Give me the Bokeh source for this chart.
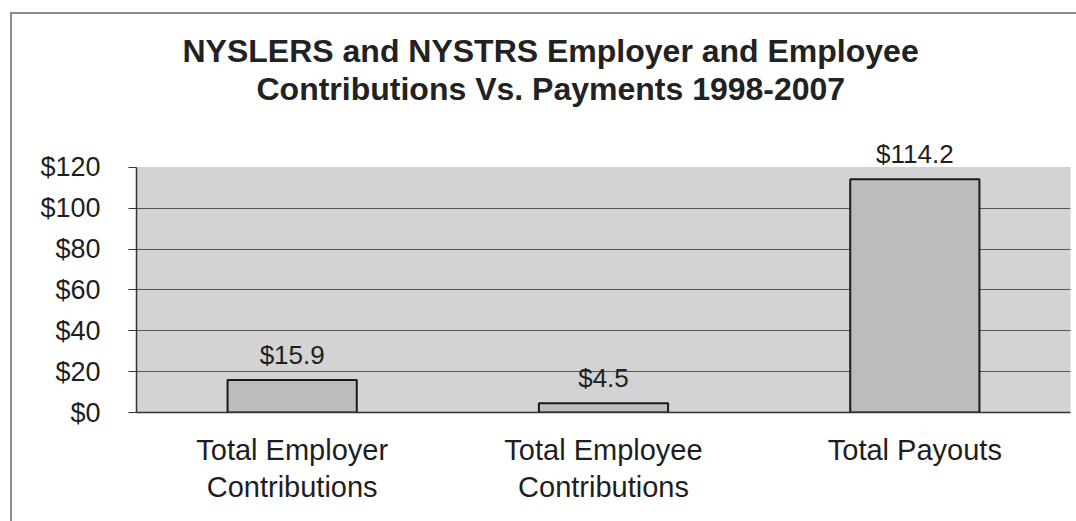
from bokeh.plotting import figure
from bokeh.models import (ColumnDataSource, FactorRange, Range1d, FixedTicker, LabelSet, Title,
                          BoxAnnotation, CategoricalAxis, CustomJSTickFormatter)
from bokeh.core.properties import value
from bokeh.embed import file_html
from bokeh.resources import INLINE

categories = ["Total Employer Contributions", "Total Employee Contributions", "Total Payouts"]
label_line1 = ["Total Employer", "Total Employee", "Total Payouts"]
label_line2 = ["Contributions", "Contributions", ""]
values = [15.9, 4.5, 114.2]
value_labels = ["$15.9", "$4.5", "$114.2"]
y_ticks = [0, 20, 40, 60, 80, 100, 120]
y_tick_labels = {0: "$0", 20: "$20", 40: "$40", 60: "$60", 80: "$80", 100: "$100", 120: "$120"}
title_lines = ["NYSLERS and NYSTRS Employer and Employee", "Contributions Vs. Payments 1998-2007"]

FONT = "Liberation Sans"
Y_MAX = 120
Y_VIEW = 143  # extra room above the plot area for the value label

src = ColumnDataSource(dict(cat=categories, val=values, lab=value_labels))

p = figure(width=1076, height=521, x_range=FactorRange(*categories), y_range=Range1d(0, Y_VIEW),
           output_backend="svg", toolbar_location=None,
           min_border_left=136, min_border_right=6, min_border_top=120, min_border_bottom=109)
p.background_fill_color = None
p.border_fill_color = None
p.outline_line_color = None
# thin grey frame line at the top and left of the chart, as in the scan
p.styles = {
    "background-color": "white",
    "background-image": "linear-gradient(#8c8c8c, #8c8c8c), linear-gradient(#8c8c8c, #8c8c8c)",
    "background-size": "100% 2px, 2px 100%",
    "background-position": "10px 12px, 10px 12px",
    "background-repeat": "no-repeat",
}

# grey plot area 0..120
p.add_layout(BoxAnnotation(bottom=0, top=Y_MAX, fill_color="#d3d3d3", fill_alpha=1.0,
                           line_color="#9a9a9a", line_width=1, level="image"))

p.vbar(x="cat", top="val", width=0.415, source=src, fill_color="#bcbcbc",
       line_color="#1a1a1a", line_width=2)

p.add_layout(LabelSet(x="cat", y="val", text="lab", source=src, text_align="center",
                      text_baseline="alphabetic", y_offset=16, text_font=value(FONT),
                      text_font_size="26px", text_color="#1e1e1e"))

# grid
p.xgrid.grid_line_color = None
p.ygrid.ticker = FixedTicker(ticks=y_ticks[1:-1])
p.ygrid.grid_line_color = "#555555"
p.ygrid.grid_line_width = 1.2

# y axis
p.yaxis.ticker = FixedTicker(ticks=y_ticks)
p.yaxis.bounds = (0, Y_MAX)
p.yaxis.major_label_overrides = y_tick_labels
p.yaxis.major_label_text_font = FONT
p.yaxis.major_label_text_font_size = "27px"
p.yaxis.major_label_text_color = "#1e1e1e"
p.yaxis.major_tick_out = 8
p.yaxis.major_tick_in = 0
p.yaxis.minor_tick_line_color = None
p.yaxis.major_tick_line_color = "#333333"
p.yaxis.axis_line_color = "#333333"
p.yaxis.axis_line_width = 1.5
p.yaxis.major_label_standoff = 28

# x axis: first line of category names
p.xaxis.formatter = CustomJSTickFormatter(args=dict(m=dict(zip(categories, label_line1))),
                                          code="return m[tick] !== undefined ? m[tick] : tick")
p.xaxis.major_label_text_font = FONT
p.xaxis.major_label_text_font_size = "29px"
p.xaxis.major_label_text_color = "#1e1e1e"
p.xaxis.major_tick_line_color = None
p.xaxis.axis_line_color = "#333333"
p.xaxis.axis_line_width = 1.5
p.xaxis.major_label_standoff = 15

# second line of category names
ax2 = CategoricalAxis(formatter=CustomJSTickFormatter(args=dict(m=dict(zip(categories, label_line2))),
                                                      code="return m[tick] !== undefined ? m[tick] : tick"),
                      major_label_text_font=FONT, major_label_text_font_size="29px",
                      major_label_text_color="#1e1e1e", major_tick_line_color=None,
                      axis_line_color=None, major_label_standoff=-4)
p.add_layout(ax2, "below")

# title (two lines, centred over the whole chart)
title_style = dict(align="left", text_font=FONT, text_font_style="bold",
                   text_font_size="32px", text_color="#222222")
p.add_layout(Title(text=title_lines[1], offset=120, standoff=28, **title_style), "above")
try:
    t1 = Title(text=title_lines[0], offset=46, standoff=-28, **title_style)
except Exception:
    t1 = Title(text=title_lines[0], offset=46, standoff=0, **title_style)
p.add_layout(t1, "above")

open("out.html", "w").write(file_html(p, INLINE))
